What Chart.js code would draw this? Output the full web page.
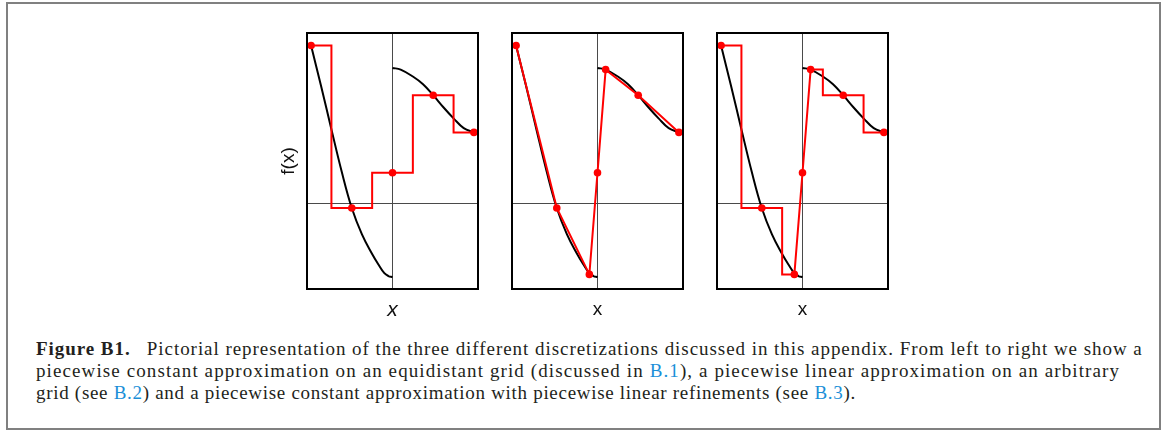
<!DOCTYPE html>
<html><head><meta charset="utf-8">
<script src="https://cdn.jsdelivr.net/npm/chart.js@4.4.0/dist/chart.umd.min.js"></script>
<style>
html,body{margin:0;padding:0;background:#fff;}
body{width:1174px;height:432px;position:relative;overflow:hidden;}
#frame{position:absolute;left:6px;top:2px;width:1151px;height:424px;border:2px solid #808080;}
.pc{position:absolute;top:0;}
#caption{position:absolute;left:36px;top:338px;font-family:"Liberation Serif",serif;font-size:19px;line-height:22px;color:#231f20;white-space:nowrap;}
#caption div{height:22px}
#caption b{font-weight:bold}
#caption a{color:#1b8fd8;text-decoration:none}
</style></head><body>
<div id="frame"></div>
<canvas id="c1" class="pc" style="left:0px" width="490" height="324"></canvas>
<canvas id="c2" class="pc" style="left:490px" width="205" height="324"></canvas>
<canvas id="c3" class="pc" style="left:700px" width="200" height="324"></canvas>
<div id="caption">
<div style="letter-spacing:0.95px"><b>Figure B1.</b>&ensp; Pictorial representation of the three different discretizations discussed in this appendix. From left to right we show a</div>
<div style="letter-spacing:1.1px">piecewise constant approximation on an equidistant grid (discussed in <a>B.1</a>), a piecewise linear approximation on an arbitrary</div>
<div style="letter-spacing:0.7px">grid (see <a>B.2</a>) and a piecewise constant approximation with piecewise linear refinements (see <a>B.3</a>).</div>
</div>
<script>
// ---- data ----
const curveLeftX  = [-1, -0.875, -0.75, -0.625, -0.5, -0.375, -0.25, -0.175, -0.1, -0.05, 0];
const curveLeftY  = [1.853, 1.37, 0.87, 0.38, -0.05, -0.36, -0.59, -0.71, -0.815, -0.848, -0.861];
const curveRightX = [0, 0.1, 0.25, 0.375, 0.5, 0.625, 0.75, 0.875, 1];
const curveRightY = [1.591, 1.571, 1.49, 1.40, 1.271, 1.13, 1.0, 0.885, 0.835];

// panel 1: equidistant grid, piecewise constant
const gridX1 = [-1, -0.5, 0, 0.5, 1];
const gridF1 = [1.853, -0.05, 0.362, 1.271, 0.835];
const cellEdges1 = [-1.03, -0.75, -0.25, 0.25, 0.75, 1.03];

// panel 2 and 3: arbitrary grid
const gridX2 = [-1, -0.5, -0.1, 0, 0.1, 0.5, 1];
const gridF2 = [1.853, -0.05, -0.829, 0.362, 1.571, 1.271, 0.835];

// panel 3: constant cells around outer points, linear refinement in the middle
const cellEdges3L = [-1.03, -0.75, -0.25, -0.1];
const cellVals3L  = [1.853, -0.05, -0.829];
const linearX3    = [-0.1, 0, 0.1];
const linearF3    = [-0.829, 0.362, 1.571];
const cellEdges3R = [0.1, 0.25, 0.75, 1.03];
const cellVals3R  = [1.571, 1.271, 0.835];

const xTitles = ['x', 'x', 'x'];
const yTitle = 'f(x)';

// ---- helpers ----
const zip = (xs, ys) => xs.map((x, i) => ({x, y: ys[i]}));
function stepPoints(edges, vals) {
  const pts = [];
  for (let i = 0; i < vals.length; i++) {
    pts.push({x: edges[i], y: vals[i]});
    pts.push({x: edges[i + 1], y: vals[i]});
  }
  return pts;
}

const RED = '#ff0000';
const frame = {
  id: 'frame',
  afterDatasetsDraw(chart) {
    const {ctx, chartArea: a} = chart;
    ctx.save();
    ctx.strokeStyle = '#000';
    ctx.lineWidth = 2;
    ctx.strokeRect(a.left, a.top, a.right - a.left, a.bottom - a.top);
    ctx.restore();
  }
};

function makeChart(id, redPts, dots, pad, showY, xTitleFont) {
  const datasets = [
    {data: zip(curveLeftX, curveLeftY), borderColor: '#000', borderWidth: 2, pointRadius: 0, tension: 0.4, order: 3},
    {data: zip(curveRightX, curveRightY), borderColor: '#000', borderWidth: 2, pointRadius: 0, tension: 0.4, order: 3},
    {data: redPts, borderColor: RED, borderWidth: 2, pointRadius: 0, tension: 0, order: 2},
    {data: dots, showLine: false, pointRadius: 3.8, pointBorderWidth: 0, pointBackgroundColor: RED, backgroundColor: RED, borderColor: RED, order: 1}
  ];
  const zeroOnly = (s) => { s.ticks = [{value: 0}]; };
  return new Chart(document.getElementById(id), {
    type: 'line',
    data: {datasets},
    options: {
      responsive: false, animation: false, devicePixelRatio: 1, events: [],
      layout: {padding: pad},
      plugins: {legend: {display: false}, tooltip: {enabled: false}},
      scales: {
        x: {type: 'linear', min: -1.05, max: 1.05, afterBuildTicks: zeroOnly,
            ticks: {display: false}, border: {display: false},
            grid: {color: '#4a4a4a', lineWidth: 1, drawTicks: false},
            title: {display: true, text: xTitles[0], color: '#111', font: xTitleFont, padding: {top: 11, bottom: 4}}},
        y: {type: 'linear', min: -1, max: 2, afterBuildTicks: zeroOnly,
            ticks: {display: false}, border: {display: false},
            grid: {color: '#4a4a4a', lineWidth: 1, drawTicks: false},
            title: {display: showY, text: yTitle, color: '#111', font: {family: 'Liberation Sans', size: 19, lineHeight: '20px'}, padding: {top: 9, bottom: 8}}}
      }
    },
    plugins: [frame]
  });
}

makeChart('c1', stepPoints(cellEdges1, gridF1), zip(gridX1, gridF1),
  {left: 270, right: 12, top: 33, bottom: 0}, true,
  {family: 'Liberation Sans', size: 21, style: 'italic', lineHeight: '20px'});
makeChart('c2', zip(gridX2, gridF2), zip(gridX2, gridF2),
  {left: 22, right: 12, top: 33, bottom: 0}, false,
  {family: 'Liberation Sans', size: 19, lineHeight: '20px'});
makeChart('c3',
  stepPoints(cellEdges3L, cellVals3L).concat(zip(linearX3, linearF3).slice(1), stepPoints(cellEdges3R, cellVals3R)),
  zip(gridX2, gridF2),
  {left: 17, right: 12, top: 33, bottom: 0}, false,
  {family: 'Liberation Sans', size: 19, lineHeight: '20px'});
</script>
</body></html>
